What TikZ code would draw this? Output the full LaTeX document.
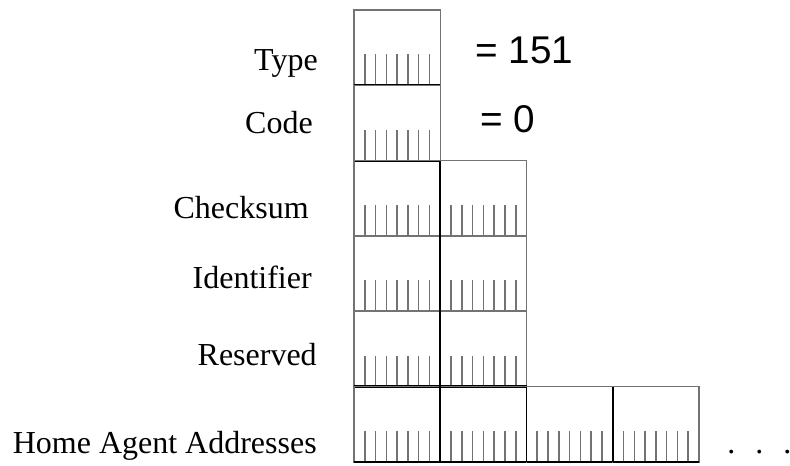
\documentclass[tikz,border=0pt]{standalone}
\usepackage{fontspec}
\setmainfont{Liberation Serif}
\newfontfamily\valuefont{Liberation Sans}
\usetikzlibrary{positioning}

\tikzset{
  cellframe/.style={draw=black!55, line width=1.1pt},
  celltick/.style={draw=black!55, line width=1.2pt},
  cellbase/.style={draw=black, line width=1.6pt},
  cellsep/.style={draw=black, line width=1.3pt},
  fieldname/.style={anchor=base east, inner sep=0pt, font=\fontsize{24}{28}\selectfont},
  fieldvalue/.style={anchor=base west, inner sep=0pt, font=\valuefont\fontsize{29}{33}\selectfont},
}

% one octet: column #1, row #2 (both from 0)
\newcommand{\bytecell}[2]{%
  \pgfmathsetmacro{\cx}{354+(#1)*86.25}
  \pgfmathsetmacro{\cy}{10+(#2)*75.3}
  \draw[cellframe] (\cx,\cy) rectangle ++(86.25,75.3);
  \foreach \k in {1,...,7}
    \draw[celltick] (\cx+\k*10.78,\cy+75.3) -- ++(0,-31);
  \draw[cellbase] (\cx,\cy+75.3) -- ++(86.25,0);
}

\begin{document}
\begin{tikzpicture}[x=0.75pt, y=-0.75pt]
  \useasboundingbox (0,0) rectangle (790,465);

  % octets of each field, row/last column
  \foreach \r/\n in {0/0, 1/0, 2/1, 3/1, 4/1, 5/3} {
    \foreach \c in {0,...,\n} {
      \bytecell{\c}{\r}
    }
  }

  % borders between octets
  \draw[cellsep] (440.25,160.6) -- (440.25,461.8);
  \draw[cellsep] (526.5,386.5) -- (526.5,461.8);
  \draw[cellsep] (612.75,386.5) -- (612.75,461.8);

  % field names
  \node[fieldname] (type)     at (318,70)  {Type};
  \node[fieldname] (code)     at (313,133) {Code};
  \node[fieldname] (checksum) at (309,218) {Checksum};
  \node[fieldname] (ident)    at (312,288) {Identifier};
  \node[fieldname] (reserved) at (317,365) {Reserved};
  \node[fieldname] (homeaddr) at (317,453) {Home Agent Addresses};

  % fixed values
  \node[fieldvalue] (typeval) at (475,63)  {= 151};
  \node[fieldvalue] (codeval) at (480,132) {= 0};

  % more addresses follow
  \node[fieldname, anchor=base west] (more) at (727,453) {.\hspace{15pt}.\hspace{15pt}.};
\end{tikzpicture}
\end{document}
